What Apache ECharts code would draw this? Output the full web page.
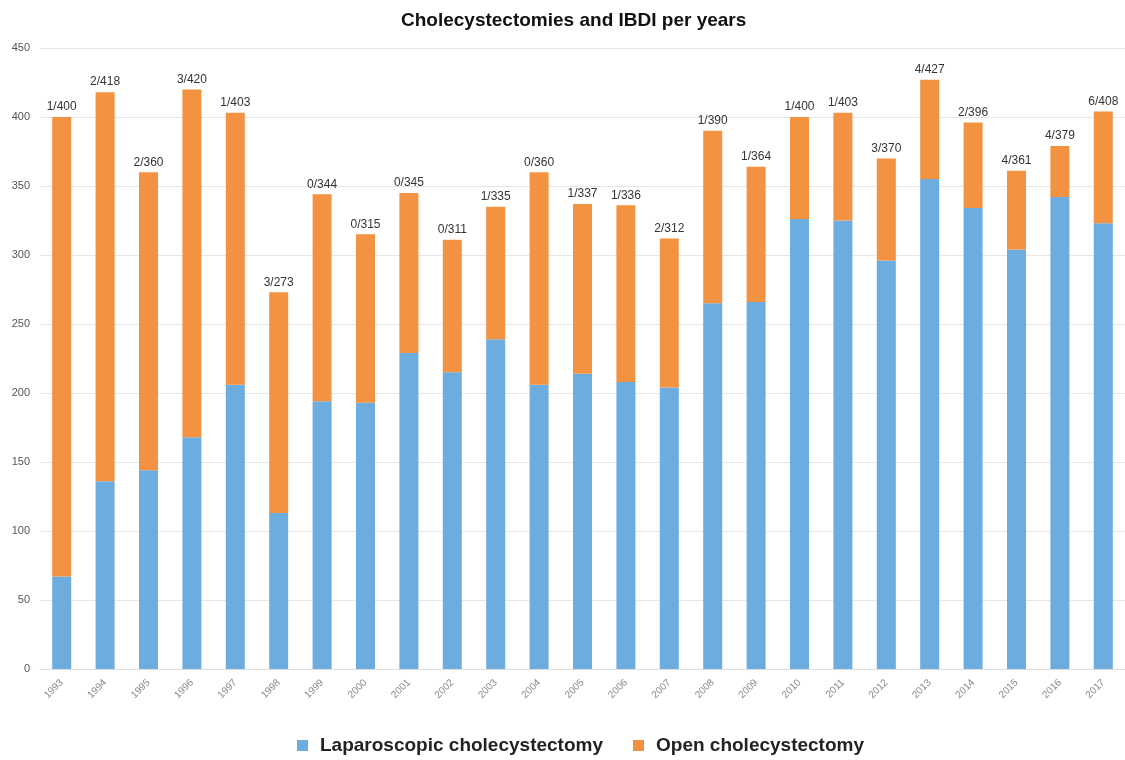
<!DOCTYPE html>
<html>
<head>
<meta charset="utf-8">
<script src="https://cdn.jsdelivr.net/npm/echarts@6/dist/echarts.min.js"></script>
<style>html,body{margin:0;padding:0;background:#fff;}#chart{width:1125px;height:760px;}</style>
</head>
<body>
<div id="chart"></div>
<script>
const years = ['1993','1994','1995','1996','1997','1998','1999','2000','2001','2002','2003','2004','2005','2006','2007','2008','2009','2010','2011','2012','2013','2014','2015','2016','2017'];
const laparoscopic = [67,136,144,168,206,113,194,193,229,215,239,206,214,208,204,265,266,326,325,296,355,334,304,342,323];
const openChole = [333,282,216,252,197,160,150,122,116,96,96,154,123,128,108,125,98,74,78,74,72,62,57,37,81];
const ibdi = [1,2,2,3,1,3,0,0,0,0,1,0,1,1,2,1,1,1,1,3,4,2,4,4,6];
const reportedTotals = [400,418,360,420,403,273,344,315,345,311,335,360,337,336,312,390,364,400,403,370,427,396,361,379,408];
const yTicks = {min:0, max:450, interval:50};

const chart = echarts.init(document.getElementById('chart'));
const font = '"Liberation Sans", Arial, Helvetica, sans-serif';
chart.setOption({
  animation: false,
  title: {
    text: 'Cholecystectomies and IBDI per years',
    left: 396, top: 6,
    textStyle: {fontFamily: font, fontSize: 19, fontWeight: 'bold', color: '#111'}
  },
  grid: {left: 40, right: 0, top: 48, bottom: 91, containLabel: false},
  legend: {
    bottom: 0, left: 292,
    itemWidth: 11, itemHeight: 11, itemGap: 30,
    icon: 'rect',
    textStyle: {fontFamily: font, fontSize: 19, fontWeight: 'bold', color: '#222', padding: [0, 0, 0, 7]},
    data: ['Laparoscopic cholecystectomy', 'Open cholecystectomy']
  },
  xAxis: {
    type: 'category', data: years,
    axisTick: {show: false},
    axisLine: {lineStyle: {color: '#ddd', width: 1}},
    axisLabel: {rotate: 45, fontFamily: font, fontSize: 10, color: '#888', margin: 12}
  },
  yAxis: {
    type: 'value', min: yTicks.min, max: yTicks.max, interval: yTicks.interval,
    axisLine: {show: false}, axisTick: {show: false},
    splitLine: {lineStyle: {color: '#e6e6e6', width: 1}},
    axisLabel: {fontFamily: font, fontSize: 11, color: '#555', margin: 10}
  },
  series: [
    {
      name: 'Laparoscopic cholecystectomy', type: 'bar', stack: 't',
      data: laparoscopic, barWidth: 19,
      itemStyle: {color: '#6DACDE'}
    },
    {
      name: 'Open cholecystectomy', type: 'bar', stack: 't',
      data: openChole, barWidth: 19,
      itemStyle: {color: '#F39241'},
      label: {
        show: true, position: 'top', distance: 4,
        fontFamily: font, fontSize: 12, color: '#333',
        formatter: p => ibdi[p.dataIndex] + '/' + reportedTotals[p.dataIndex]
      }
    }
  ]
});
</script>
</body>
</html>
